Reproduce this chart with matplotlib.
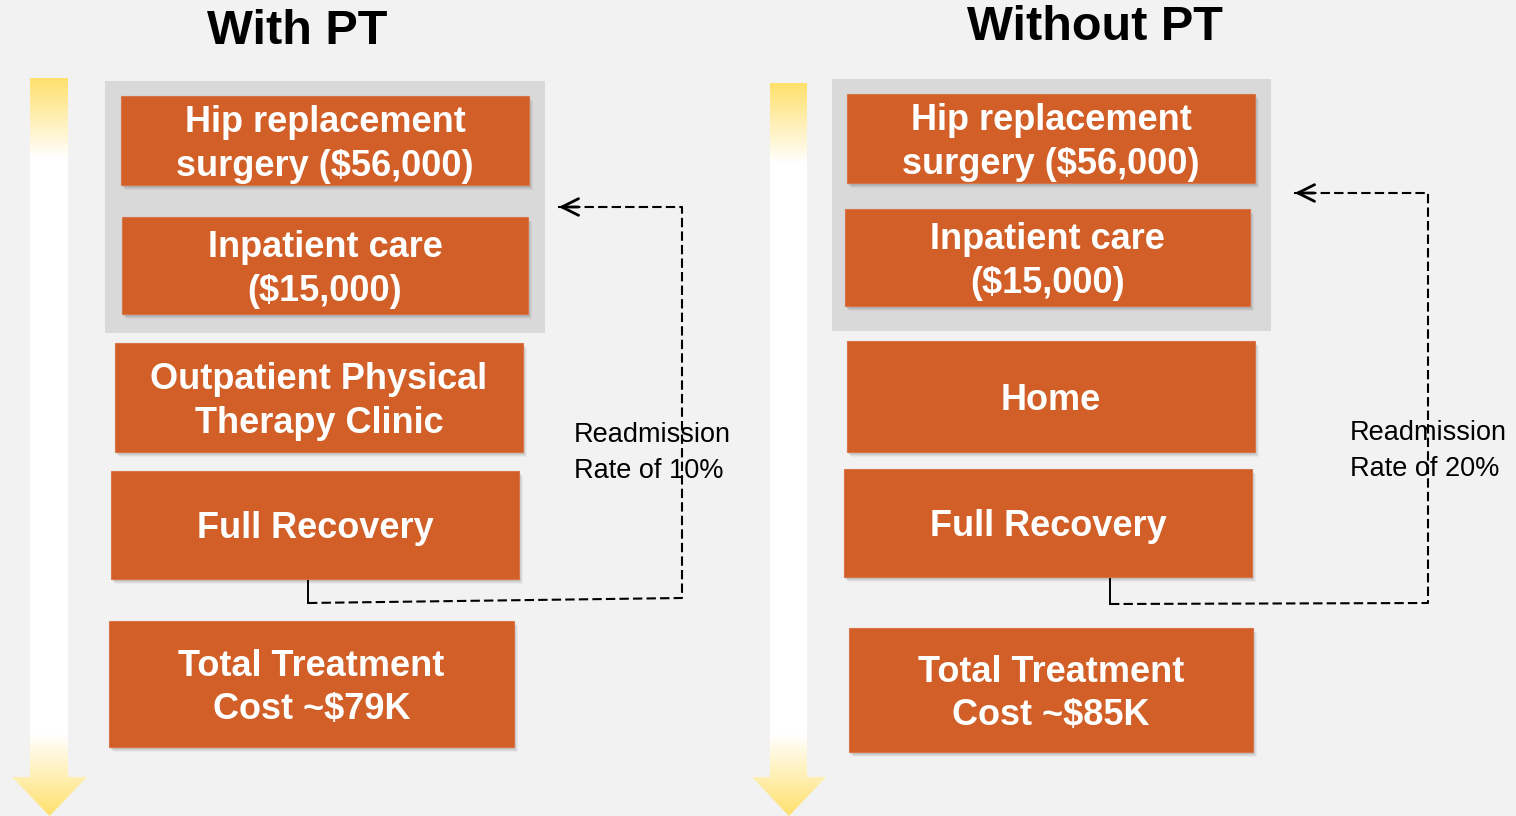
import numpy as np
import matplotlib.pyplot as plt
from matplotlib.patches import Rectangle, Polygon

# ---- content ----
titles = ['With PT', 'Without PT']
left_steps = ['Hip replacement\nsurgery ($56,000)', 'Inpatient care\n($15,000)',
              'Outpatient Physical\nTherapy Clinic', 'Full Recovery',
              'Total Treatment\nCost ~$79K']
right_steps = ['Hip replacement\nsurgery ($56,000)', 'Inpatient care\n($15,000)',
               'Home', 'Full Recovery', 'Total Treatment\nCost ~$85K']
readmission_rates = ['10%', '20%']

# ---- layout (pixel coords, y down) ----
left_boxes = [(121, 96, 408, 89), (122, 217, 406, 97), (115, 343, 408, 109),
              (111, 471, 408, 108), (109, 621, 405, 126)]
right_boxes = [(847, 94, 408, 89), (845, 209, 405, 97), (847, 341, 408, 111),
               (844, 469, 408, 108), (849, 628, 404, 124)]
groups = [(105, 81, 440, 252), (832, 79, 439, 252)]
arrows = [(30, 68, 78, 12, 87), (770, 807, 83, 752, 826)]
title_pos = [(297, 32), (1095, 27)]
loops = [(308, 580, 603, 682, 598, 207, 556), (1110, 575, 604, 1428, 603, 193, 1292)]
note_pos = [(574, 453), (1350, 451)]

ORANGE = '#d15f27'
BG = '#f2f2f2'

fig = plt.figure(figsize=(15.16, 8.16), dpi=100, facecolor=BG)
ax = fig.add_axes([0, 0, 1, 1])
ax.set_xlim(0, 1516)
ax.set_ylim(816, 0)
ax.axis('off')
ax.set_facecolor(BG)


def grad_arrow(x0, x1, ytop, hx0, hx1):
    tip = 816
    head_y = 777
    xm = (hx0 + hx1) / 2
    poly = Polygon([(x0, ytop), (x1, ytop), (x1, head_y), (hx1, head_y), (xm, tip),
                    (hx0, head_y), (x0, head_y)], closed=True, facecolor='none',
                   edgecolor='none')
    ax.add_patch(poly)
    ys = np.linspace(ytop, tip, 400)
    top = np.clip(1 - (ys - ytop) / 80, 0, 1)
    bot = np.clip((ys - 735) / (tip - 735), 0, 1)
    a = np.maximum(top, bot) * 0.85
    yel = np.array([1.0, 0.86, 0.33])
    wh = np.array([1.0, 1.0, 1.0])
    img = wh[None, :] * (1 - a[:, None]) + yel[None, :] * a[:, None]
    img = np.repeat(img[:, None, :], 2, axis=1)
    im = ax.imshow(img, extent=(hx0, hx1, tip, ytop), aspect='auto', zorder=1,
                   interpolation='bilinear')
    im.set_clip_path(poly)


def box(x, y, w, h, label):
    for i, al in enumerate([0.06, 0.06, 0.05, 0.04]):
        ax.add_patch(Rectangle((x + 1 + i, y + 2 + i), w, h, facecolor='black',
                               alpha=al, edgecolor='none', zorder=3))
    ax.add_patch(Rectangle((x, y), w, h, facecolor=ORANGE, edgecolor='#d8764a',
                           lw=0.8, zorder=4))
    ax.text(x + w / 2, y + h / 2 + 4, label, ha='center', va='center', color='white',
            fontsize=26, fontweight='bold', family='Liberation Sans', zorder=5,
            linespacing=1.32)


for k, steps in enumerate([left_steps, right_steps]):
    boxes = [left_boxes, right_boxes][k]
    gx, gy, gw, gh = groups[k]
    ax.add_patch(Rectangle((gx, gy), gw, gh, facecolor='#d9d9d9', edgecolor='none',
                           zorder=2))
    grad_arrow(*arrows[k])
    for (x, y, w, h), lab in zip(boxes, steps):
        box(x, y, w, h, lab)
    tx, ty = title_pos[k]
    ax.text(tx, ty, titles[k], ha='center', va='center', fontsize=35,
            fontweight='bold', family='Liberation Sans', color='black')

    sx, sy0, sy1, vx, vy, ay, ax_end = loops[k]
    ax.plot([sx, sx], [sy0, sy1], color='black', lw=1.4, zorder=2)
    ax.plot([sx, vx, vx, ax_end + 2], [sy1, vy, ay, ay], color='black', lw=1.5,
            ls=(0, (4.5, 2)), zorder=2)
    ax.annotate('', xy=(ax_end, ay), xytext=(ax_end + 25, ay),
                arrowprops=dict(arrowstyle='->', lw=2, color='black',
                                mutation_scale=30))
    nx, ny = note_pos[k]
    ax.text(nx, ny, 'Readmission\nRate of ' + readmission_rates[k], ha='left',
            va='center', fontsize=19.5, family='Liberation Sans',
            color='black', linespacing=1.55, zorder=6)

fig.savefig('out.png', dpi=100, facecolor=BG)
